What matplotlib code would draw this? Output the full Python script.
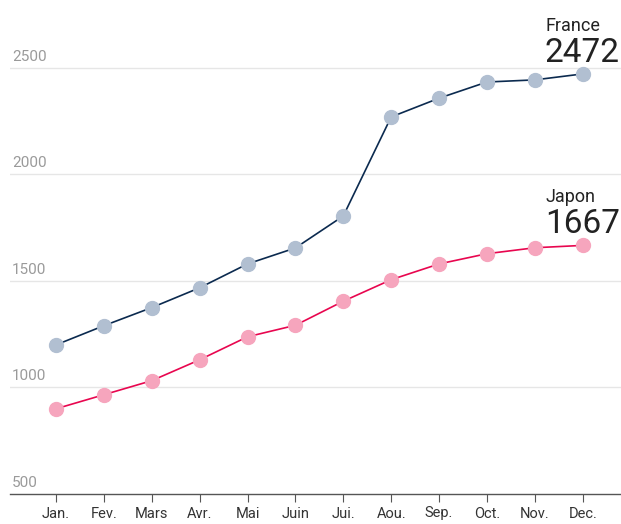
import numpy as np
import matplotlib.pyplot as plt

plt.rcParams['font.family'] = ['Roboto', 'DejaVu Sans']

mois = ["Jan.", "Fev.", "Mars", "Avr.", "Mai", "Juin", "Jui.", "Aou.", "Sep.", "Oct.", "Nov.", "Dec."]
france = [1200, 1290, 1375, 1468, 1580, 1655, 1805, 2270, 2358, 2434, 2444, 2472]
japon = [900, 966, 1032, 1130, 1238, 1292, 1405, 1506, 1580, 1628, 1656, 1667]
yticks = [500, 1000, 1500, 2000, 2500]

fig = plt.figure(figsize=(6.21, 5.24), dpi=100)
ax = fig.add_axes([10/621, 30/524, 611/621, 494/524])

x = np.arange(len(mois))

# gridlines
for v in yticks[1:]:
    ax.axhline(v, color='#e6e6e6', linewidth=1, zorder=0)

ax.plot(x, france, color='#0b2a4f', linewidth=1.2, zorder=2)
ax.plot(x, france, 'o', color='#b1bfd1', markersize=10, zorder=3)
ax.plot(x, japon, color='#e8064f', linewidth=1.2, zorder=2)
ax.plot(x, japon, 'o', color='#f6a5bd', markersize=10, zorder=3)

ax.set_xlim(-0.96, 11.8)
ax.set_ylim(500, 2819)

# y labels inside, above gridlines
for v in yticks:
    ax.text(0.003, v + 20, str(v), transform=ax.get_yaxis_transform(),
            ha='left', va='bottom', fontsize=11, color='#9a9a9a')

# end labels
for nom, serie in [("France", france), ("Japon", japon)]:
    ax.annotate(nom, (x[-1], serie[-1]), xytext=(-37, 43), textcoords='offset pixels',
                fontsize=13, color='#222222', ha='left', va='baseline')
    ax.annotate(str(serie[-1]), (x[-1], serie[-1]), xytext=(-38, 12), textcoords='offset pixels',
                fontsize=24, color='#222222', ha='left', va='baseline')

for s in ['top', 'right', 'left']:
    ax.spines[s].set_visible(False)
ax.spines['bottom'].set_color('#555555')
ax.spines['bottom'].set_linewidth(1)
ax.set_yticks([])
ax.set_xticks(x)
ax.set_xticklabels(mois, fontsize=10.5, color='#333333')
ax.tick_params(axis='x', length=6, width=0.8, color='#555555', pad=3)

fig.savefig("out.png", dpi=100)
